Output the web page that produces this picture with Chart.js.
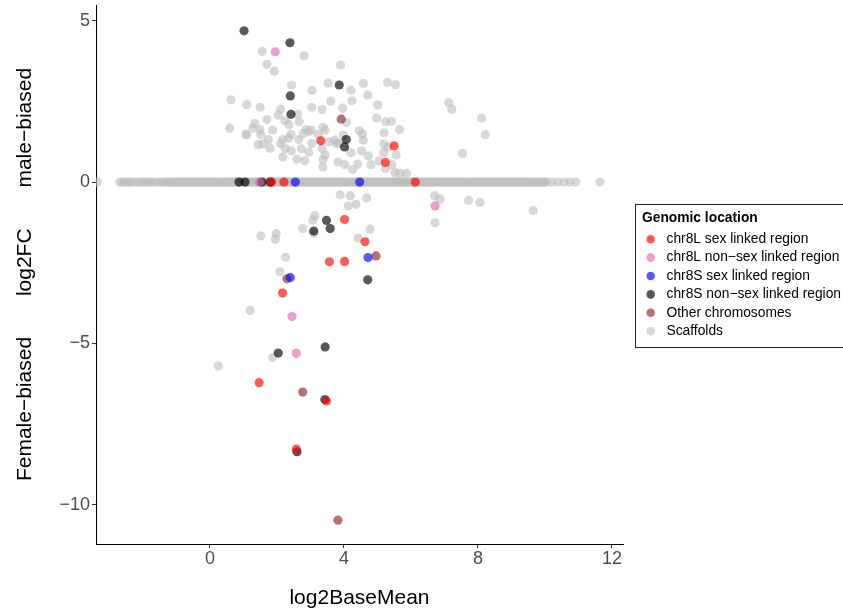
<!DOCTYPE html>
<html>
<head>
<meta charset="utf-8">
<script src="https://cdn.jsdelivr.net/npm/chart.js@4.4.1/dist/chart.umd.min.js"></script>
<style>
  html, body { margin: 0; padding: 0; background: #fff; }
  canvas { display: block; }
</style>
</head>
<body>
<canvas id="volcano" width="843" height="614"></canvas>
<script>
// --- data -------------------------------------------------------------
const groups = [
  'chr8L sex linked region',
  'chr8L non\u2212sex linked region',
  'chr8S sex linked region',
  'chr8S non\u2212sex linked region',
  'Other chromosomes',
  'Scaffolds'
];

const xTicks = [0, 4, 8, 12];
const yTicks = [-10, -5, 0, 5];

// chr8L sex linked region
const l8SexX = [3.31, 5.50, 5.24, 1.84, 2.21, 6.13, 4.02, 4.63, 3.57, 4.02, 2.17, 1.47, 3.48, 2.58];
const l8SexY = [1.28, 1.12, 0.61, 0, 0, 0, -1.16, -1.85, -2.47, -2.46, -3.44, -6.22, -6.79, -8.28];

// chr8L non-sex linked region
const l8OtherX = [1.95, 1.48, 6.72, 2.45, 2.58];
const l8OtherY = [4.04, 0, -0.74, -4.17, -5.31];

// chr8S sex linked region
const s8SexX = [2.55, 4.47, 4.72, 2.40];
const s8SexY = [0, 0, -2.34, -2.96];

// chr8S non-sex linked region
const s8OtherX = [1.02, 2.39, 3.86, 2.40, 2.42, 4.07, 4.02, 0.87, 1.05, 1.55, 1.80,
                  3.48, 3.10, 3.59, 4.71, 2.04, 3.44, 3.43, 2.60];
const s8OtherY = [4.69, 4.32, 3.01, 2.67, 2.10, 1.32, 1.09, 0, 0, 0, 0,
                  -1.19, -1.52, -1.44, -3.03, -5.30, -5.11, -6.74, -8.36];

// other chromosomes
const otherChrX = [3.92, 4.96, 2.30, 2.77, 3.82];
const otherChrY = [1.95, -2.29, -3.00, -6.51, -10.48];

// scaffolds with a non-zero fold change
const scaffoldX = [1.56, 2.81, 1.70, 1.92, 3.90, 2.44, 3.53, 4.58, 5.30, 3.05,
  4.21, 4.71, 0.63, 3.61, 4.24, 1.10, 1.50, 3.04, 3.35, 3.96,
  5.01, 2.11, 2.04, 2.62, 1.70, 2.24, 2.66, 4.98, 4.08, 5.25,
  0.59, 1.34, 1.28, 2.36, 2.87, 3.02, 3.38, 3.44, 1.49, 1.87,
  1.07, 1.10, 1.52, 2.42, 2.79, 2.95, 3.23, 4.46, 4.55, 3.98,
  5.20, 1.74, 2.18, 2.35, 2.65, 3.04, 3.56, 3.73, 3.86, 4.58,
  2.11, 1.44, 1.59, 1.80, 2.25, 2.43, 2.73, 2.95, 3.35, 3.78,
  4.53, 4.21, 5.19, 5.32, 2.18, 2.59, 2.83, 3.44, 3.38, 3.82,
  4.03, 4.41, 4.73, 4.81, 5.19, 5.05, 3.37, 4.26, 5.24, 3.89,
  4.19, 4.68, 5.54, 5.66, 5.42, 5.56, 5.43, 7.13, 7.22, 8.11,
  8.22, 7.54, 5.52, 5.67, 5.87, 4.13, 4.36, 3.13, 3.07, 2.77,
  3.10, 4.78, 4.43, 6.71, 6.87, 6.72, 7.72, 8.06, 9.65, 1.52,
  1.98, 1.95, 2.26, 2.09, 1.20, 1.87, 0.25];
const scaffoldY = [4.05, 3.92, 3.65, 3.44, 3.63, 3.01, 3.07, 3.06, 3.09, 2.84,
  2.85, 2.70, 2.55, 2.51, 2.52, 2.40, 2.32, 2.32, 2.25, 2.29,
  2.39, 2.26, 2.08, 2.10, 1.94, 1.90, 1.87, 1.99, 1.84, 1.87,
  1.67, 1.82, 1.67, 1.78, 1.63, 1.61, 1.70, 1.61, 1.63, 1.61,
  1.49, 1.46, 1.47, 1.48, 1.51, 1.56, 1.48, 1.59, 1.49, 1.46,
  1.53, 1.32, 1.32, 1.36, 1.32, 1.20, 1.25, 1.30, 1.20, 1.30,
  1.20, 1.16, 1.18, 1.05, 1.04, 0.97, 1.03, 0.93, 1.04, 1.20,
  0.97, 0.91, 1.18, 1.09, 0.78, 0.71, 0.66, 0.84, 0.70, 0.62,
  0.54, 0.56, 0.81, 0.54, 0.92, 0.66, 0.47, 0.39, 0.42, -0.40,
  -0.42, -0.49, 3.02, 1.63, 1.88, 0.84, 0.54, 2.46, 2.26, 1.98,
  1.47, 0.89, 0.30, 0.27, 0.27, -0.74, -0.69, -1.04, -1.18, -1.44,
  -1.59, -1.46, -1.74, -0.42, -0.53, -1.26, -0.57, -0.63, -0.88, -1.67,
  -1.60, -1.77, -2.33, -2.78, -3.98, -5.44, -5.70];

// scaffolds with log2FC = 0 (the flat band along zero)
const scaffoldZeroX = [-3.36, -2.69, -2.62, -2.54, -2.45, -2.39, -2.30, -2.18, -2.10, -2.00,
  -1.93, -1.85, -1.78, -1.70, -1.60, -1.49, -1.42, -1.34,
  -1.26, -1.17, -1.07, -0.98, -0.90, -0.80, -0.71, -0.61, -0.52, -0.43,
  -0.33, -0.24, -0.15, -0.05, 0.04, 0.13, 0.23, 0.32, 0.42, 0.51,
  0.60, 0.69, 0.79, 0.88, 0.97, 1.07, 1.16, 1.26, 1.35, 1.44,
  1.53, 1.63, 1.72, 1.82, 1.91, 2.00, 2.10, 2.19, 2.28, 2.38,
  2.47, 2.57, 2.66, 2.75, 2.84, 2.94, 3.03, 3.12, 3.22, 3.31,
  3.41, 3.50, 3.59, 3.68, 3.78, 3.87, 3.96, 4.06, 4.15, 4.25,
  4.34, 4.43, 4.52, 4.62, 4.71, 4.80, 4.90, 4.99, 5.09, 5.18,
  5.27, 5.36, 5.46, 5.55, 5.64, 5.74, 5.83, 5.93, 6.02, 6.11,
  6.20, 6.30, 6.39, 6.49, 6.58, 6.67, 6.76, 6.86, 6.95, 7.05,
  7.14, 7.23, 7.33, 7.42, 7.51, 7.60, 7.70, 7.79, 7.89, 7.98,
  8.07, 8.17, 8.26, 8.35, 8.44, 8.54, 8.63, 8.73, 8.82, 8.91,
  9.01, 9.10, 9.19, 9.28, 9.38, 9.47, 9.57, 9.66, 9.75, 9.85,
  9.94, 10.04, 10.20, 10.38, 10.57, 10.74, 10.92, 11.64,
  -1.22, -1.12, -1.03, -0.94, -0.85, -0.75, -0.66, -0.57, -0.47, -0.38,
  -0.29, -0.19, -0.10, -0.01, 0.09, 0.18, 0.27, 0.37, 0.46, 0.56,
  0.65, 0.74, 0.84, 0.93, 1.02, 1.11, 1.21, 1.30, 1.40, 1.49,
  1.58, 1.68, 1.77, 1.86, 1.96, 2.05, 2.14, 2.24, 2.33, 2.42,
  2.52, 2.61, 2.70, 2.80, 2.89, 2.98, 3.08, 3.17, 3.26, 3.36,
  3.45, 3.54, 3.64, 3.73, 3.82, 3.91, 4.01, 4.10, 4.20, 4.29,
  4.38, 4.48, 4.57, 4.66, 4.76, 4.85, 4.94, 5.04, 5.13, 5.22,
  5.32, 5.41, 5.50, 5.60, 5.69, 5.78, 5.88, 5.97, 6.06, 6.16,
  6.25, 6.34, 6.44, 6.53, 6.62, 6.72, 6.81, 6.90, 7.00, 7.09,
  7.18, 7.28, 7.37, 7.47, 7.56, 7.65, 7.74, 7.84, 7.93, 8.03,
  8.12, 8.21, 8.31, 8.40, 8.49, 8.58, 8.68, 8.77, 8.86, 8.96,
  9.05, 9.14, 9.24, 9.33, 9.42, 9.52, 9.61, 9.70, 9.80, 9.89, 9.99];

// --- styling ----------------------------------------------------------
const FONT = '"Liberation Sans", Arial, Helvetica, sans-serif';
const palette = [
  'rgba(255, 0, 0, 0.65)',
  'rgba(225, 95, 165, 0.6)',
  'rgba(0, 0, 255, 0.65)',
  'rgba(0, 0, 0, 0.65)',
  'rgba(130, 20, 20, 0.6)',
  'rgba(190, 190, 190, 0.6)'
];

const toPoints = (xs, ys) => xs.map((x, i) => ({ x: x, y: ys[i] }));
const minus = v => String(v).replace('-', '\u2212');

const series = [
  toPoints(l8SexX, l8SexY),
  toPoints(l8OtherX, l8OtherY),
  toPoints(s8SexX, s8SexY),
  toPoints(s8OtherX, s8OtherY),
  toPoints(otherChrX, otherChrY),
  toPoints(scaffoldZeroX, scaffoldZeroX.map(() => 0)).concat(toPoints(scaffoldX, scaffoldY))
];

// legend box drawn at the right of the plot, ggplot style
const legendBox = {
  id: 'legendBox',
  afterDraw(chart) {
    const ctx = chart.ctx;
    ctx.save();
    ctx.strokeStyle = '#222';
    ctx.lineWidth = 1;
    ctx.strokeRect(635.5, 204.5, 220, 143);
    ctx.textAlign = 'left';
    ctx.textBaseline = 'middle';
    ctx.fillStyle = '#000';
    ctx.font = 'bold 13.8px ' + FONT;
    ctx.fillText('Genomic location', 642, 218);
    ctx.font = '13.8px ' + FONT;
    groups.forEach((name, i) => {
      const y = 239.3 + i * 18.35;
      ctx.beginPath();
      ctx.arc(650.7, y, 4.3, 0, Math.PI * 2);
      ctx.fillStyle = palette[i];
      ctx.fill();
      ctx.fillStyle = '#000';
      ctx.fillText(name, 666.5, y);
    });
    ctx.restore();
  }
};

new Chart(document.getElementById('volcano'), {
  type: 'scatter',
  data: {
    datasets: series.map((pts, i) => ({
      label: groups[i],
      data: pts,
      backgroundColor: palette[i],
      pointRadius: 4.6,
      pointBorderWidth: 0,
      order: i + 1
    }))
  },
  options: {
    responsive: false,
    animation: false,
    events: [],
    layout: { padding: { top: 5, right: 220, left: 0, bottom: 0 } },
    plugins: {
      legend: { display: false },
      tooltip: { enabled: false }
    },
    scales: {
      x: {
        type: 'linear',
        min: -3.40,
        max: 12.33,
        afterBuildTicks: s => { s.ticks = xTicks.map(v => ({ value: v })); },
        afterFit: s => { s.height = 70; s.paddingLeft = 0; s.paddingRight = 0; },
        grid: { drawOnChartArea: false, drawTicks: true, tickLength: 4, tickColor: '#333', tickWidth: 1 },
        border: { display: true, color: '#000', width: 1 },
        ticks: {
          autoSkip: false, maxRotation: 0, padding: 0,
          color: '#4d4d4d', font: { family: FONT, size: 18 },
          callback: v => minus(v)
        },
        title: {
          display: true, text: 'log2BaseMean', color: '#000',
          font: { family: FONT, size: 21 }, padding: { top: 0, bottom: 3.4 }
        }
      },
      y: {
        type: 'linear',
        min: -11.22,
        max: 5.49,
        afterBuildTicks: s => { s.ticks = yTicks.map(v => ({ value: v })); },
        afterFit: s => { s.width = 96; s.paddingTop = 0; s.paddingBottom = 0; },
        grid: { drawOnChartArea: false, drawTicks: true, tickLength: 4, tickColor: '#333', tickWidth: 1 },
        border: { display: true, color: '#000', width: 1 },
        ticks: {
          autoSkip: false, padding: 2,
          color: '#4d4d4d', font: { family: FONT, size: 18 },
          callback: v => minus(v)
        },
        title: {
          display: true,
          text: 'Female\u2212biased       log2FC       male\u2212biased',
          color: '#000',
          font: { family: FONT, size: 21 }, padding: { top: 12.4, bottom: 0 }
        }
      }
    }
  },
  plugins: [legendBox]
});
</script>
</body>
</html>
